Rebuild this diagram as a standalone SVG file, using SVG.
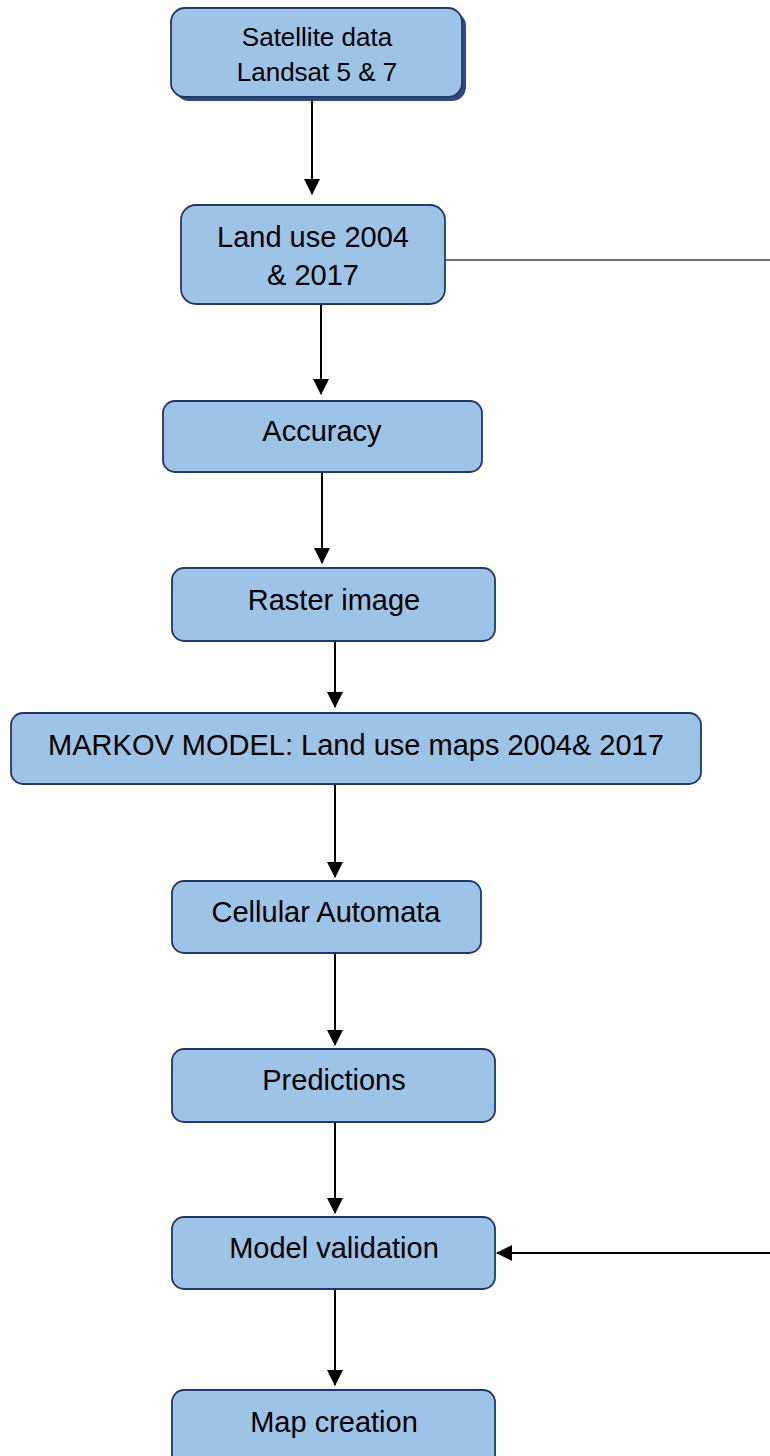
<svg xmlns="http://www.w3.org/2000/svg" width="770" height="1456" viewBox="0 0 770 1456">
<defs>
<style>
.box{fill:#9DC3E6;stroke:#1F3864;stroke-width:1.8}
.t{font-family:"Liberation Sans",Arial,sans-serif;font-size:29px;fill:#000;text-anchor:middle}
.t1{font-family:"Liberation Sans",Arial,sans-serif;font-size:26px;fill:#000;text-anchor:middle}
.c{stroke:#000;stroke-width:2;fill:none}
</style>
<marker id="ah" markerUnits="userSpaceOnUse" markerWidth="16" markerHeight="16" viewBox="0 0 16 16" refX="15" refY="8" orient="auto">
<path d="M0,0 L16,8 L0,16 Z" fill="#000"/>
</marker>
</defs>
<rect width="770" height="1456" fill="#fff"/>
<g id="connectors">
<line class="c" x1="312" y1="100" x2="312" y2="194" marker-end="url(#ah)"/>
<line class="c" x1="321" y1="304" x2="321" y2="394" marker-end="url(#ah)"/>
<line class="c" x1="322" y1="472" x2="322" y2="563" marker-end="url(#ah)"/>
<line class="c" x1="335" y1="641" x2="335" y2="707" marker-end="url(#ah)"/>
<line class="c" x1="335" y1="784" x2="335" y2="877" marker-end="url(#ah)"/>
<line class="c" x1="335" y1="953" x2="335" y2="1045" marker-end="url(#ah)"/>
<line class="c" x1="335" y1="1122" x2="335" y2="1213" marker-end="url(#ah)"/>
<line class="c" x1="335" y1="1289" x2="335" y2="1385" marker-end="url(#ah)"/>
<line x1="446" y1="260" x2="770" y2="260" stroke="#404040" stroke-width="1.5"/>
<line class="c" x1="770" y1="1253" x2="497" y2="1253" marker-end="url(#ah)"/>
</g>
<g id="n1">
<rect x="175" y="12" width="291" height="89" rx="14" fill="#2F4A7A"/>
<rect class="box" x="171" y="8" width="291" height="89" rx="14"/>
<text class="t1" x="317" y="46">Satellite data</text>
<text class="t1" x="317" y="81">Landsat 5 &amp; 7</text>
</g>
<g id="n2">
<rect class="box" x="181" y="205" width="264" height="99" rx="15"/>
<text class="t" x="313" y="247">Land use 2004</text>
<text class="t" x="313" y="285">&amp; 2017</text>
</g>
<g id="n3">
<rect class="box" x="163" y="401" width="319" height="71" rx="12"/>
<text class="t" x="322" y="441">Accuracy</text>
</g>
<g id="n4">
<rect class="box" x="172" y="568" width="323" height="73" rx="12"/>
<text class="t" x="334" y="610">Raster image</text>
</g>
<g id="n5">
<rect class="box" x="11" y="713" width="690" height="71" rx="12"/>
<text class="t" x="356" y="755">MARKOV MODEL: Land use maps 2004&amp; 2017</text>
</g>
<g id="n6">
<rect class="box" x="172" y="881" width="309" height="72" rx="12"/>
<text class="t" x="326" y="922">Cellular Automata</text>
</g>
<g id="n7">
<rect class="box" x="172" y="1049" width="323" height="73" rx="12"/>
<text class="t" x="334" y="1090">Predictions</text>
</g>
<g id="n8">
<rect class="box" x="172" y="1217" width="323" height="72" rx="12"/>
<text class="t" x="334" y="1258">Model validation</text>
</g>
<g id="n9">
<rect class="box" x="172" y="1390" width="323" height="80" rx="12"/>
<text class="t" x="334" y="1432">Map creation</text>
</g>
</svg>
